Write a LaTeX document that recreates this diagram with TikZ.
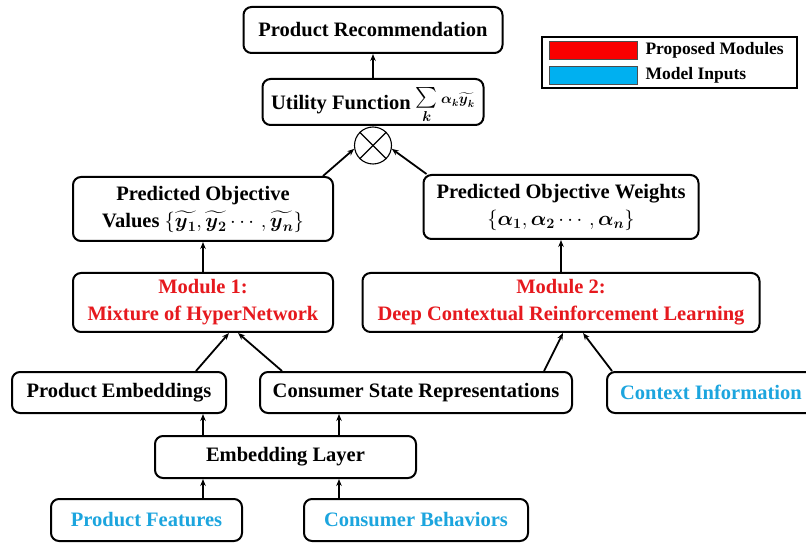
\RequirePackage{fix-cm}
\documentclass[tikz,border=0pt]{standalone}
\usepackage{amsmath}
\usepackage{fontspec}
\setmainfont{Liberation Serif}
\usetikzlibrary{arrows.meta,calc}
\definecolor{modred}{RGB}{230,25,30}
\definecolor{inblue}{RGB}{28,165,222}
\definecolor{swred}{RGB}{250,0,0}
\definecolor{swblue}{RGB}{0,176,240}
\tikzset{
  box/.style={draw=black, line width=2pt, rounded corners=8pt, inner sep=0pt,
    align=center, font=\fontsize{20.5}{27}\selectfont\bfseries},
  arr/.style={line width=1.8pt, -{Stealth[length=7pt,width=5.5pt]}},
  legtext/.style={anchor=west, inner sep=0pt, font=\fontsize{17.5}{20}\selectfont\bfseries},
  swatch/.style={draw=black!70, line width=0.6pt}
}
\newcommand{\bty}[1]{\widetilde{\boldsymbol{y}_{\boldsymbol{#1}}}}
\newcommand{\bal}[1]{\boldsymbol{\alpha}_{\boldsymbol{#1}}}
\newcommand{\utiltext}{Utility Function \raise7pt\hbox{$\sum\limits_{\boldsymbol{k}}$}\,\raise6pt\hbox{$\scriptstyle\bal{k}\bty{k}$}}
\newcommand{\valtext}{Values $\{\bty{1},\bty{2}\cdots,\bty{n}\}$}
\newcommand{\wttext}{$\{\bal{1},\bal{2}\cdots,\bal{n}\}$}
\begin{document}
\begin{tikzpicture}[x=1pt,y=-1pt]
\clip (0,0) rectangle (806,545);
\useasboundingbox (0,0) rectangle (806,545);
\fill[white] (0,0) rectangle (806,545);

% column coordinates
\coordinate (colA) at (203,0);
\coordinate (colB) at (339,0);

% nodes
\node[box, minimum width=259pt, minimum height=46pt] (pr) at (373,30) {Product Recommendation};
\node[box, minimum width=221pt, minimum height=46pt, text height=23pt, text depth=7pt] (util) at (373,102) {\utiltext};
\node[draw=black, line width=1.1pt, circle, minimum size=37pt, inner sep=0pt] (ot) at (373,145.5) {};
\draw[line width=1.1pt] (ot.north east) -- (ot.south west);
\draw[line width=1.1pt] (ot.north west) -- (ot.south east);

\node[box, minimum width=260pt, minimum height=64pt] (vals) at (203,209) {Predicted Objective\\\valtext};
\node[box, minimum width=275pt, minimum height=64pt] (wts) at (561,207) {Predicted Objective Weights\\\wttext};

\node[box, text=modred, minimum width=260pt, minimum height=59pt] (mod1) at (203,302.5)
  {Module 1:\\Mixture of HyperNetwork};
\node[box, text=modred, minimum width=397pt, minimum height=59pt] (mod2) at (561,302.5)
  {Module 2:\\Deep Contextual Reinforcement Learning};

\node[box, minimum width=214pt, minimum height=41pt] (pemb) at (119,392.5) {Product Embeddings};
\node[box, minimum width=312pt, minimum height=41pt] (cst) at (416,392.5) {Consumer State Representations};
\node[box, text=inblue, minimum width=208pt, minimum height=41pt] (ctx) at (711,392.5) {Context Information};

\node[box, minimum width=261pt, minimum height=42pt] (emb) at (285.5,457) {Embedding Layer};

\node[box, text=inblue, minimum width=191pt, minimum height=42pt] (pf) at (146.5,520) {Product Features};
\node[box, text=inblue, minimum width=224pt, minimum height=42pt] (cb) at (416,520) {Consumer Behaviors};

% connectors
\draw[arr] (util.north) -- (pr.south);
\draw[arr] ($(vals.north east)+(-11,0)$) -- (ot.190);
\draw[arr] ($(wts.north west)+(4,0)$) -- (ot.350);
\draw[arr] (mod1.north) -- (vals.south);
\draw[arr] (mod2.north) -- (wts.south);
\draw[arr] ($(pemb.north east)+(-31,0)$) -- ($(mod1.south)+(26,0)$);
\draw[arr] ($(cst.north west)+(23,0)$) -- ($(mod1.south)+(35,0)$);
\draw[arr] ($(cst.north east)+(-29,0)$) -- ($(mod2.south)+(2,0)$);
\draw[arr] ($(ctx.north west)+(6,0)$) -- ($(mod2.south)+(22,0)$);
\draw[arr] (emb.north -| colA) -- (pemb.south -| colA);
\draw[arr] (emb.north -| colB) -- (cst.south -| colB);
\draw[arr] (pf.north -| colA) -- (emb.south -| colA);
\draw[arr] (cb.north -| colB) -- (emb.south -| colB);

% legend
\node[draw=black, line width=1.8pt, minimum width=255pt, minimum height=51pt, inner sep=0pt] (leg) at (669.5,62.5) {};
\node[swatch, fill=swred, minimum width=88pt, minimum height=18pt, inner sep=0pt] (swr) at (593,50) {};
\node[swatch, fill=swblue, minimum width=88pt, minimum height=18pt, inner sep=0pt] (swb) at (593,75) {};
\node[legtext] (lr) at ($(swr.east)+(8,0)$) {Proposed Modules};
\node[legtext] (lb) at ($(swb.east)+(8,0)$) {Model Inputs};
\end{tikzpicture}
\end{document}
